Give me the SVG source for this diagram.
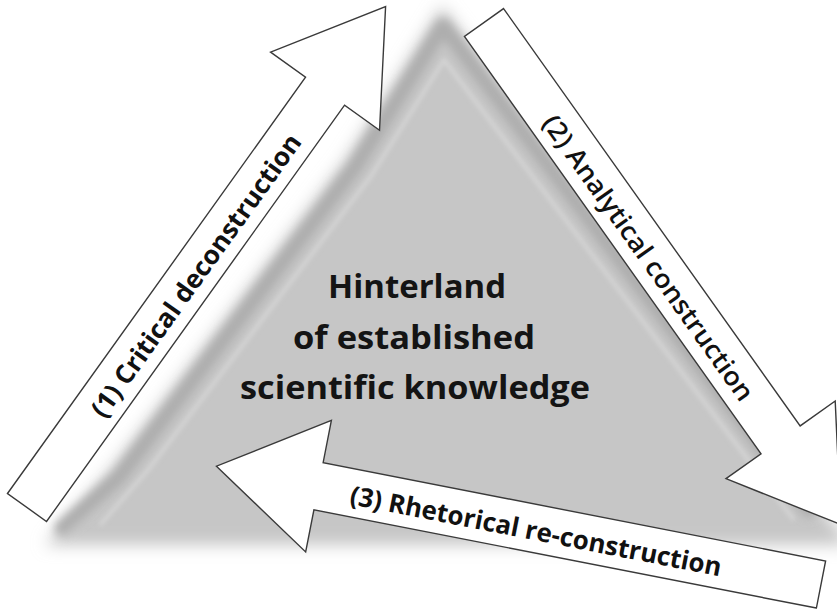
<svg xmlns="http://www.w3.org/2000/svg" width="837" height="609" viewBox="0 0 837 609">
  <style>
    .arrow { fill: #ffffff; stroke: #3a3a3a; stroke-width: 1.4; stroke-linejoin: miter; }
    .lbl { font-family: "Open Sans", "Liberation Sans", sans-serif; font-size: 26px; fill: #111111; }
    .bold { font-weight: 700; }
    .reg { font-weight: 600; }
    .center { font-family: "Open Sans", "Liberation Sans", sans-serif; font-size: 32.5px; font-weight: 700; fill: #141414; }
  </style>
  <defs>
    <filter id="soft" x="-20%" y="-20%" width="140%" height="140%">
      <feGaussianBlur stdDeviation="8"/>
    </filter>
    <filter id="rimblur" x="-20%" y="-20%" width="140%" height="140%">
      <feGaussianBlur stdDeviation="5"/>
    </filter>
    <filter id="lineblur" x="-20%" y="-20%" width="140%" height="140%">
      <feGaussianBlur stdDeviation="2"/>
    </filter>
    <path id="arrowShape" d="M0,-24 L512,-24 L512,-67 L616,0 L512,67 L512,24 L0,24 Z"/>
  </defs>

  <rect width="837" height="609" fill="#ffffff"/>

  <g id="hinterland">
    <polygon points="442,6 345,160 110,470 45,545 850,545" fill="#c6c6c6" filter="url(#soft)"/>
    <path d="M62,528 L119,477 L355,167 L443,26 L809,510" fill="none" stroke="#adadad" stroke-width="15" stroke-linejoin="round" stroke-linecap="round" filter="url(#rimblur)"/>
    <path d="M100,525 L148,470 L371,176 L444,60 L794,520" fill="none" stroke="#d4d4d4" stroke-width="4" stroke-linejoin="round" filter="url(#lineblur)"/>
    <text class="center" x="417" y="298.3" text-anchor="middle" textLength="178" lengthAdjust="spacingAndGlyphs">Hinterland</text>
    <text class="center" x="414" y="349" text-anchor="middle" textLength="242" lengthAdjust="spacingAndGlyphs">of established</text>
    <text class="center" x="415" y="399.3" text-anchor="middle" textLength="350" lengthAdjust="spacingAndGlyphs">scientific knowledge</text>
  </g>

  <g id="connectors">
    <g id="arrow1" transform="translate(27,507.5) rotate(-54.4)">
      <use href="#arrowShape" class="arrow"/>
      <text class="lbl bold" x="287" y="11.5" text-anchor="middle" textLength="341" lengthAdjust="spacingAndGlyphs">(1) Critical deconstruction</text>
    </g>
    <g id="arrow2" transform="translate(484,22.5) rotate(54.6)">
      <use href="#arrowShape" class="arrow"/>
      <text class="lbl reg" x="287" y="11.5" text-anchor="middle" textLength="344" lengthAdjust="spacingAndGlyphs">(2) Analytical construction</text>
    </g>
    <g id="arrow3">
      <use href="#arrowShape" class="arrow" transform="translate(821,584.5) rotate(191.07)"/>
      <text class="lbl bold" transform="translate(536.4,528.8) rotate(11.07)" x="0" y="11.5" text-anchor="middle" textLength="378" lengthAdjust="spacingAndGlyphs">(3) Rhetorical re-construction</text>
    </g>
  </g>
</svg>
